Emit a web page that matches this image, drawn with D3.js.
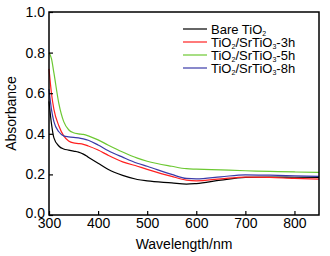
<!DOCTYPE html>
<html>
<head>
<meta charset="utf-8">
<script src="https://cdn.jsdelivr.net/npm/d3@7"></script>
<style>
  body { margin: 0; background: #fff; }
  text { font-family: "Liberation Sans", Arial, sans-serif; }
</style>
</head>
<body>
<svg id="chart"></svg>
<script>
// wavelength (nm) -> absorbance
var wl       = [300, 305, 310, 320, 330, 340, 350, 360, 370, 380, 400, 420, 450, 480, 500, 550, 580, 600, 650, 700, 750, 800, 850];
var bare     = [0.56, 0.45, 0.38, 0.34, 0.325, 0.32, 0.315, 0.31, 0.30, 0.285, 0.255, 0.225, 0.195, 0.175, 0.168, 0.158, 0.152, 0.155, 0.172, 0.185, 0.187, 0.186, 0.185];
var h3       = [0.72, 0.60, 0.52, 0.44, 0.39, 0.365, 0.355, 0.352, 0.348, 0.34, 0.32, 0.295, 0.262, 0.24, 0.225, 0.19, 0.172, 0.168, 0.178, 0.187, 0.185, 0.18, 0.177];
var h5       = [0.80, 0.77, 0.70, 0.55, 0.46, 0.42, 0.405, 0.40, 0.397, 0.39, 0.37, 0.345, 0.31, 0.28, 0.265, 0.24, 0.228, 0.226, 0.222, 0.218, 0.215, 0.212, 0.21];
var h8       = [0.62, 0.52, 0.46, 0.41, 0.39, 0.385, 0.382, 0.38, 0.375, 0.368, 0.345, 0.318, 0.285, 0.255, 0.24, 0.2, 0.18, 0.178, 0.188, 0.198, 0.196, 0.193, 0.19];
var seriesNames = ["bare", "3h", "5h", "8h"];
var seriesColors = ["#000000", "#ff2020", "#6cc832", "#3a3aa8"];
var xTicks = [300, 400, 500, 600, 700, 800];
var yTicks = [0.0, 0.2, 0.4, 0.6, 0.8, 1.0];

var W = 330, H = 256;
var m = {left: 49, right: 11, top: 12, bottom: 41};
var svg = d3.select("#chart").attr("width", W).attr("height", H);

var x = d3.scaleLinear().domain([300, 850]).range([m.left, W - m.right]);
var y = d3.scaleLinear().domain([0, 1]).range([H - m.bottom, m.top]);

var all = [bare, h3, h5, h8];

var line = d3.line()
    .x((d, i) => x(wl[i]))
    .y(d => y(d))
    .curve(d3.curveMonotoneX);

// plot lines
svg.append("g").selectAll("path")
    .data(all)
    .enter().append("path")
    .attr("d", d => line(d))
    .attr("fill", "none")
    .attr("stroke", (d, i) => seriesColors[i])
    .attr("stroke-width", 1.2);

// frame
svg.append("rect")
    .attr("x", m.left).attr("y", m.top)
    .attr("width", W - m.right - m.left)
    .attr("height", H - m.bottom - m.top)
    .attr("fill", "none").attr("stroke", "#000").attr("stroke-width", 1.5);

var xAxis = svg.append("g")
    .attr("transform", `translate(0,${H - m.bottom})`)
    .call(d3.axisBottom(x).tickValues(xTicks).tickSizeInner(-4).tickSizeOuter(0).tickPadding(2));
var yAxis = svg.append("g")
    .attr("transform", `translate(${m.left},0)`)
    .call(d3.axisLeft(y).tickValues(yTicks).tickFormat(d3.format(".1f")).tickSizeInner(-4).tickSizeOuter(0).tickPadding(4));

[xAxis, yAxis].forEach(function(a) {
    a.select(".domain").remove();
    a.selectAll("line").attr("stroke", "#000").attr("stroke-width", 1.2);
    a.selectAll("text").attr("font-size", "14px").attr("fill", "#000")
        .style("font-family", "'Liberation Sans', Arial, sans-serif");
});
xAxis.selectAll("text").attr("dy", "0.75em");
yAxis.selectAll("text").filter(d => d === 0).attr("dy", "0.2em");

svg.append("text")
    .attr("x", x(575)).attr("y", H - 7)
    .attr("text-anchor", "middle").attr("font-size", "14px")
    .text("Wavelength/nm");

svg.append("text")
    .attr("transform", `translate(16,${y(0.5)}) rotate(-90)`)
    .attr("text-anchor", "middle").attr("font-size", "14px")
    .text("Absorbance");

// legend
var legend = svg.append("g");
var ly0 = 29, ldy = 13;
var labels = [
    [["Bare TiO", ""], ["2", "sub"]],
    [["TiO", ""], ["2", "sub"], ["/SrTiO", ""], ["3", "sub"], ["-3h", ""]],
    [["TiO", ""], ["2", "sub"], ["/SrTiO", ""], ["3", "sub"], ["-5h", ""]],
    [["TiO", ""], ["2", "sub"], ["/SrTiO", ""], ["3", "sub"], ["-8h", ""]]
];
seriesNames.forEach(function(n, i) {
    var yy = ly0 + i * ldy;
    legend.append("line")
        .attr("x1", 183).attr("x2", 207).attr("y1", yy).attr("y2", yy)
        .attr("stroke", seriesColors[i]).attr("stroke-width", 1.2);
    var t = legend.append("text")
        .attr("x", 211).attr("y", yy + 4.5).attr("font-size", "13px");
    labels[i].forEach(function(p) {
        var ts = t.append("tspan").text(p[0]);
        if (p[1] === "sub") ts.attr("font-size", "7px").attr("dy", 2.5);
        else if (t.selectAll("tspan").size() > 1) ts.attr("dy", -2.5);
    });
});
</script>
</body>
</html>
